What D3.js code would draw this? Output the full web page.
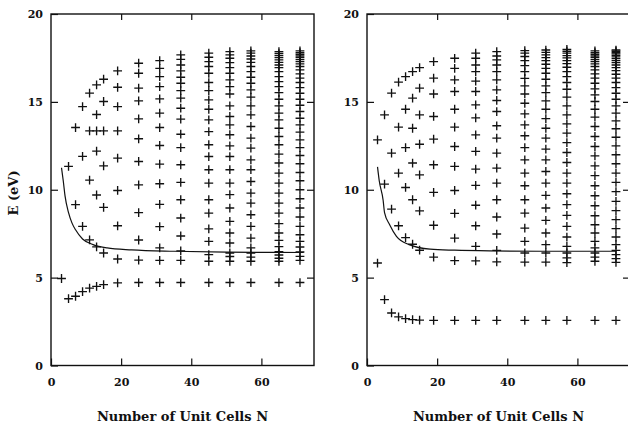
<!DOCTYPE html>
<html>
<head>
<meta charset="utf-8">
<script src="https://cdn.jsdelivr.net/npm/d3@7"></script>
<style>
  body { margin: 0; background: #fff; }
  svg { display: block; }
  .tick text { font-family: "DejaVu Serif", serif; font-weight: bold; font-size: 11px; fill: #111; }
  .title { font-family: "DejaVu Serif", serif; font-weight: bold; font-size: 13px; fill: #111; }
</style>
</head>
<body>
<div id="chart"></div>
<script>
// number of unit cells for each column of levels
var nCells = [3, 5, 7, 9, 11, 13, 15, 19, 25, 31, 37, 45, 51, 57, 65, 71];

// left panel : energies (eV) for each N
var levelsLeft = [
  [4.95],
  [11.33, 3.8],
  [13.54, 9.15, 3.94],
  [14.73, 11.9, 7.92, 4.2],
  [15.5, 13.35, 10.55, 7.15, 4.4],
  [15.97, 14.28, 13.35, 12.2, 9.7, 6.75, 4.5],
  [16.29, 15.02, 13.35, 11.36, 9.0, 6.4, 4.6],
  [16.76, 15.83, 14.73, 13.35, 11.8, 9.96, 7.95, 6.06, 4.7],
  [17.2, 16.63, 15.78, 15.06, 14.03, 12.9, 11.61, 10.28, 8.7, 7.14, 6.0, 4.72],
  [17.35, 16.91, 16.44, 15.87, 15.17, 14.36, 13.54, 12.52, 11.46, 10.34, 9.17, 7.9, 6.69, 5.98, 4.72],
  [17.67, 17.42, 17.1, 16.76, 16.4, 16.06, 15.64, 15.21, 14.64, 14.02, 13.16, 12.4, 11.42, 10.42, 9.43, 8.39, 7.37, 6.52, 5.98, 4.72],
  [17.77, 17.54, 17.29, 17.01, 16.63, 16.1, 15.64, 15.11, 14.58, 13.98, 13.31, 12.56, 11.89, 11.14, 10.38, 9.43, 8.67, 7.77, 7.06, 6.31, 5.93, 4.72],
  [17.86, 17.67, 17.48, 17.23, 16.95, 16.63, 16.25, 15.87, 15.45, 14.77, 14.17, 13.69, 13.13, 12.5, 11.89, 11.14, 10.38, 9.72, 8.96, 8.2, 7.54, 6.97, 6.4, 6.2, 5.93, 4.72],
  [17.9, 17.77, 17.61, 17.44, 17.25, 17.01, 16.72, 16.4, 16.06, 15.68, 15.27, 14.77, 14.26, 13.6, 12.94, 12.37, 11.7, 11.14, 10.47, 9.81, 9.24, 8.58, 7.92, 7.25, 6.69, 6.4, 6.17, 5.93, 4.72],
  [17.86, 17.75, 17.63, 17.52, 17.39, 17.25, 17.1, 16.95, 16.72, 16.44, 16.15, 15.87, 15.53, 15.15, 14.77, 14.36, 13.98, 13.5, 13.03, 12.56, 12.03, 11.52, 10.95, 10.38, 9.81, 9.24, 8.67, 8.07, 7.54, 7.12, 6.76, 6.48, 6.29, 6.1, 5.93, 4.72],
  [17.9, 17.8, 17.71, 17.61, 17.52, 17.4, 17.29, 17.16, 17.01, 16.82, 16.59, 16.35, 16.1, 15.81, 15.49, 15.15, 14.81, 14.45, 14.07, 13.69, 13.28, 12.84, 12.4, 11.95, 11.48, 10.98, 10.51, 10.0, 9.49, 8.96, 8.45, 7.92, 7.44, 7.06, 6.74, 6.46, 6.21, 5.98, 4.72]
];

// right panel
var levelsRight = [
  [12.84, 5.83],
  [14.26, 10.32, 3.75],
  [15.5, 12.08, 8.9, 2.99],
  [16.12, 13.56, 10.95, 7.95, 2.77],
  [16.44, 14.58, 12.4, 10.13, 7.28, 2.67],
  [16.72, 15.21, 13.5, 11.52, 9.43, 6.9, 2.61],
  [16.95, 15.78, 14.26, 12.59, 10.85, 8.8, 6.56, 2.58],
  [17.29, 16.35, 15.45, 14.17, 12.88, 11.42, 9.85, 7.98, 6.17, 2.57],
  [17.48, 16.91, 16.25, 15.59, 14.58, 13.56, 12.46, 11.33, 9.96, 8.66, 7.25, 5.97, 2.57],
  [17.77, 17.48, 17.1, 16.72, 16.18, 15.59, 14.83, 14.09, 13.12, 12.18, 11.17, 10.25, 9.12, 7.95, 6.78, 5.95, 2.57],
  [17.86, 17.61, 17.39, 17.1, 16.72, 16.25, 15.68, 15.08, 14.45, 13.64, 12.94, 12.08, 11.23, 10.38, 9.43, 8.45, 7.48, 6.55, 5.9, 2.57],
  [17.92, 17.77, 17.58, 17.35, 17.06, 16.72, 16.34, 15.91, 15.45, 14.92, 14.32, 13.69, 13.07, 12.4, 11.7, 10.95, 10.23, 9.43, 8.67, 7.82, 7.06, 6.4, 5.88, 2.57],
  [17.95, 17.82, 17.67, 17.52, 17.35, 17.14, 16.91, 16.63, 16.29, 15.91, 15.53, 15.06, 14.58, 14.05, 13.5, 12.94, 12.31, 11.7, 11.04, 10.38, 9.68, 8.96, 8.26, 7.54, 6.88, 6.4, 5.88, 2.57],
  [17.99, 17.88, 17.77, 17.63, 17.5, 17.35, 17.18, 16.97, 16.72, 16.44, 16.1, 15.72, 15.27, 14.77, 14.26, 13.75, 13.22, 12.68, 12.12, 11.55, 10.95, 10.38, 9.77, 9.15, 8.54, 7.92, 7.31, 6.78, 6.4, 6.12, 5.85, 2.57],
  [17.9, 17.8, 17.71, 17.61, 17.52, 17.4, 17.29, 17.16, 17.01, 16.82, 16.59, 16.35, 16.06, 15.74, 15.4, 15.02, 14.58, 14.13, 13.6, 13.03, 12.46, 11.93, 11.36, 10.8, 10.23, 9.66, 9.09, 8.52, 8.01, 7.54, 7.06, 6.69, 6.4, 6.17, 5.93, 2.57],
  [17.95, 17.88, 17.8, 17.73, 17.65, 17.56, 17.46, 17.35, 17.23, 17.1, 16.95, 16.78, 16.57, 16.35, 16.1, 15.81, 15.49, 15.15, 14.77, 14.36, 13.92, 13.47, 12.99, 12.5, 11.99, 11.48, 10.95, 10.42, 9.89, 9.34, 8.81, 8.3, 7.79, 7.31, 6.88, 6.55, 6.31, 6.08, 5.87, 2.57]
];

// solid threshold curve [N, E]
var curveLeft = [[3, 11.25], [3.5, 10.5], [4, 9.65], [5, 8.7], [6, 8.1], [7, 7.72], [9, 7.2], [12, 6.88], [16, 6.69], [23, 6.58], [35, 6.5], [50, 6.45], [72, 6.43]];
var curveRight = [[3, 11.3], [3.5, 10.5], [4.6, 9.4], [5, 8.7], [6.5, 8.0], [8.4, 7.35], [12, 6.88], [18, 6.62], [25, 6.56], [35, 6.52], [50, 6.5], [71, 6.5]];

var yTicks = [0, 5, 10, 15, 20];
var xTicks = [0, 20, 40, 60];
var xTitle = "Number of Unit Cells N";

var W = 628, H = 426;
var svg = d3.select("#chart").append("svg")
  .attr("width", W)
  .attr("height", H);
svg.append("rect").attr("width", W).attr("height", H).attr("fill", "#fff");

var y = d3.scaleLinear().domain([0, 20]).range([365.5, 14]);

function drawPanel(x0, x1, levels, curve, withYTitle){
  var x = d3.scaleLinear().domain([0, 75]).range([x0, x1]);
  var g = svg.append("g");

  // crosses
  var pts = [];
  nCells.forEach(function(n, i){
    levels[i].forEach(function(e){ pts.push({n: n, e: e}); });
  });
  g.selectAll(".cross")
    .data(pts)
    .enter().append("path")
    .attr("class", "cross")
    .attr("d", function(d){
      var cx = x(d.n), cy = y(d.e);
      return "M" + (cx - 4.4) + "," + cy + "H" + (cx + 4.4) + "M" + cx + "," + (cy - 4.4) + "V" + (cy + 4.4);
    })
    .attr("stroke", "#111")
    .attr("stroke-width", 1.35)
    .attr("fill", "none");

  // threshold curve
  var line = d3.line()
    .x(function(d){ return x(d[0]); })
    .y(function(d){ return y(d[1]); })
    .curve(d3.curveMonotoneX);
  g.append("path")
    .datum(curve)
    .attr("d", line)
    .attr("fill", "none")
    .attr("stroke", "#111")
    .attr("stroke-width", 1.2);

  // axes, ticks pointing inward
  var axL = g.append("g").attr("transform", "translate(" + x0 + ",0)")
    .call(d3.axisLeft(y).tickValues(yTicks).tickSize(-7).tickSizeOuter(0).tickPadding(8));
  var axB = g.append("g").attr("transform", "translate(0," + y(0) + ")")
    .call(d3.axisBottom(x).tickValues(xTicks).tickSize(-7).tickSizeOuter(0).tickPadding(13));
  var axT = g.append("g").attr("transform", "translate(0," + y(20) + ")")
    .call(d3.axisTop(x).tickValues([20, 40, 60]).tickSize(-6).tickSizeOuter(0).tickFormat(""));
  var axR = g.append("g").attr("transform", "translate(" + x1 + ",0)")
    .call(d3.axisRight(y).tickValues([5, 10, 15]).tickSize(-7).tickSizeOuter(0).tickFormat(""));
  [axL, axB, axT, axR].forEach(function(a){
    a.select(".domain").remove();
    a.selectAll(".tick line").attr("stroke", "#111").attr("stroke-width", 1.2);
  });

  // frame
  g.append("rect")
    .attr("x", x0).attr("y", y(20))
    .attr("width", x1 - x0).attr("height", y(0) - y(20))
    .attr("fill", "none")
    .attr("stroke", "#111")
    .attr("stroke-width", 1.4);

  g.append("text")
    .attr("class", "title")
    .attr("x", (x0 + x1) / 2)
    .attr("y", 421)
    .attr("text-anchor", "middle")
    .text(xTitle);

  if (withYTitle){
    g.append("text")
      .attr("class", "title")
      .attr("transform", "translate(18,193) rotate(-90)")
      .attr("text-anchor", "middle")
      .text("E (eV)");
  }
}

drawPanel(51, 314, levelsLeft, curveLeft, true);
drawPanel(367, 630, levelsRight, curveRight, false);
</script>
</body>
</html>
